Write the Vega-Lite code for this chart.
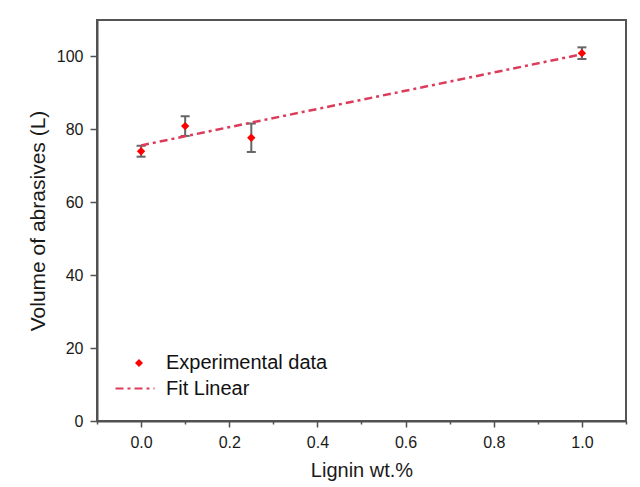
{
  "$schema": "https://vega.github.io/schema/vega-lite/v6.json",
  "width": 529,
  "height": 401,
  "autosize": {"type": "none"},
  "padding": {"left": 97, "top": 20, "right": 14, "bottom": 66},
  "background": "white",
  "config": {
    "font": "Liberation Sans",
    "view": {"stroke": "#555", "strokeWidth": 2},
    "axis": {"grid": false, "domainColor": "#505050", "domainWidth": 2, "tickColor": "#505050", "tickWidth": 1.5, "labelColor": "#1a1a1a", "titleColor": "#1a1a1a", "labelFontSize": 16, "titleFontSize": 20, "titleFontWeight": "normal", "labelOverlap": false, "labelFlush": false, "labelBound": false}
  },
  "datasets": {
    "exp": [
      {"x": 0.0, "y": 74.0, "lo": 72.5, "hi": 75.5, "series": "Experimental data"},
      {"x": 0.1, "y": 80.9, "lo": 78.2, "hi": 83.6, "series": "Experimental data"},
      {"x": 0.25, "y": 77.7, "lo": 73.8, "hi": 81.6, "series": "Experimental data"},
      {"x": 1.0, "y": 100.9, "lo": 99.3, "hi": 102.5, "series": "Experimental data"}
    ],
    "fit": [
      {"x": 0.0, "y": 75.6, "series": "Fit Linear"},
      {"x": 1.0, "y": 100.6, "series": "Fit Linear"}
    ]
  },
  "encoding": {
    "x": {"field": "x", "type": "quantitative",
      "scale": {"domain": [-0.1, 1.1], "nice": false, "zero": false},
      "axis": {"title": "Lignin wt.%", "values": [-0.1, 0, 0.1, 0.2, 0.3, 0.4, 0.5, 0.6, 0.7, 0.8, 0.9, 1.0, 1.1],
        "labelExpr": "abs(round(datum.value*10)) % 2 == 0 ? format(datum.value, '.1f') : ''",
        "tickSize": {"condition": {"test": "abs(round(datum.value*10)) % 2 == 0", "value": 6}, "value": 3},
        "labelPadding": 7, "titlePadding": 10}
    }
  },
  "layer": [
    {
      "data": {"name": "exp"},
      "mark": {"type": "rule", "color": "#666", "strokeWidth": 2},
      "encoding": {
        "y": {"field": "lo", "type": "quantitative"},
        "y2": {"field": "hi"}
      }
    },
    {
      "data": {"name": "exp"},
      "mark": {"type": "tick", "orient": "horizontal", "color": "#666", "size": 9, "thickness": 2, "opacity": 1},
      "encoding": {"y": {"field": "lo", "type": "quantitative"}}
    },
    {
      "data": {"name": "exp"},
      "mark": {"type": "tick", "orient": "horizontal", "color": "#666", "size": 9, "thickness": 2, "opacity": 1},
      "encoding": {"y": {"field": "hi", "type": "quantitative"}}
    },
    {
      "data": {"name": "fit"},
      "mark": {"type": "line", "strokeWidth": 2.5, "color": "#dc3c5a"},
      "encoding": {
        "y": {"field": "y", "type": "quantitative"},
        "strokeDash": {"field": "series", "type": "nominal",
          "scale": {"domain": ["Fit Linear"], "range": [[8, 4, 3, 4]]},
          "legend": {"orient": "none", "legendX": 17.5, "legendY": 348, "title": null, "padding": 0,
            "symbolSize": 1521, "symbolType": "stroke", "symbolStrokeColor": "#dc3c5a", "symbolStrokeWidth": 2, "symbolDash": [7, 4, 3, 4],
            "labelFontSize": 20, "labelColor": "#111", "labelOffset": 10.5, "labelLimit": 300}
        }
      }
    },
    {
      "data": {"name": "exp"},
      "mark": {"type": "point", "filled": true, "size": 70, "opacity": 1, "color": "#ff0000"},
      "encoding": {
        "y": {"field": "y", "type": "quantitative",
          "scale": {"domain": [0, 110], "nice": false, "zero": true},
          "axis": {"title": "Volume of abrasives (L)", "values": [0, 10, 20, 30, 40, 50, 60, 70, 80, 90, 100, 110],
            "labelExpr": "datum.value % 20 == 0 ? datum.label : ''",
            "tickSize": {"condition": {"test": "datum.value % 20 == 0", "value": 7}, "value": 4},
            "labelPadding": 7, "titlePadding": 8, "titleFontSize": 21}
        },
        "shape": {"field": "series", "type": "nominal",
          "scale": {"domain": ["Experimental data"], "range": ["diamond"]},
          "legend": {"orient": "none", "legendX": 32, "legendY": 333, "title": null, "padding": 0,
            "symbolSize": 64, "symbolFillColor": "#ff0000", "symbolStrokeWidth": 0, "symbolOpacity": 1,
            "labelFontSize": 20, "labelColor": "#111", "labelOffset": 17, "labelLimit": 300}
        }
      }
    }
  ]
}
